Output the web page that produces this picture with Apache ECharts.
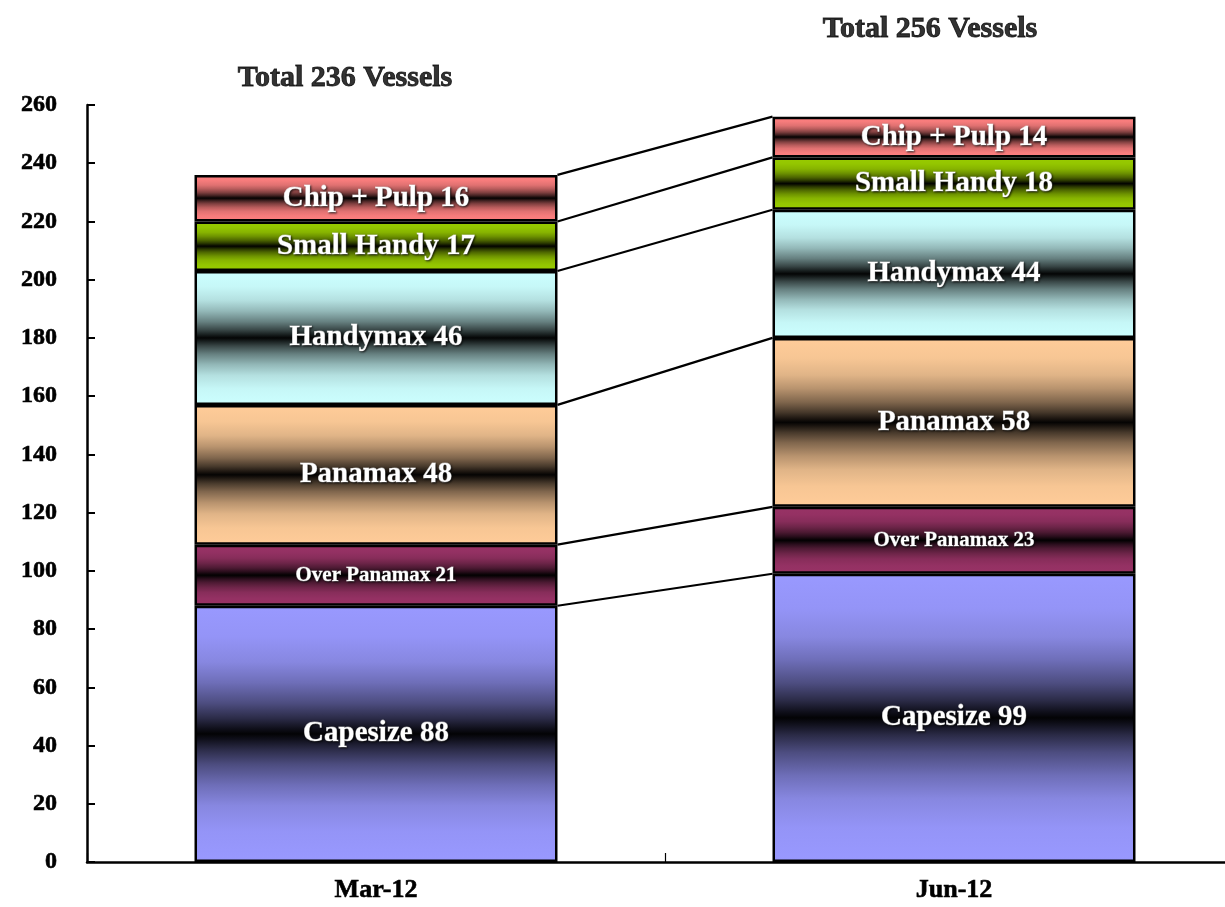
<!DOCTYPE html>
<html>
<head>
<meta charset="utf-8">
<script src="https://cdn.jsdelivr.net/npm/echarts@6/dist/echarts.min.js"></script>
<style>
  html, body { margin: 0; padding: 0; background: #fff; }
  #Chart { width: 1225px; height: 907px; }
</style>
</head>
<body>
<div id="Chart"></div>
<script>
  // categories and values
  var periods = ['Mar-12', 'Jun-12']
  var segNames = ['Capesize', 'Over Panamax', 'Panamax', 'Handymax', 'Small Handy', 'Chip + Pulp']
  var capesize = [88, 99]
  var overPanamax = [21, 23]
  var panamax = [48, 58]
  var handymax = [46, 44]
  var smallHandy = [17, 18]
  var chipPulp = [16, 14]
  var totals = [236, 256]
  var yTicks = [0, 260, 20]

  var segValues = [capesize, overPanamax, panamax, handymax, smallHandy, chipPulp]
  var segColors = ['#9999ff', '#993366', '#ffcc99', '#ccffff', '#99cc00', '#ff8080']
  var segFont = [29, 21, 29, 29, 29, 29]

  var Chart = echarts.init(document.getElementById('Chart'))

  // light at both edges, near black in the middle
  var shade = [[0, 1], [0.12, 0.97], [0.22, 0.88], [0.3, 0.72], [0.38, 0.5], [0.44, 0.28], [0.48, 0.1], [0.5, 0.02]]
  function grad(c) {
    var rgb = echarts.color.parse(c)
    var stops = []
    shade.forEach(function (s) {
      var col = 'rgb(' + Math.round(rgb[0] * s[1]) + ',' + Math.round(rgb[1] * s[1]) + ',' + Math.round(rgb[2] * s[1]) + ')'
      stops.push({ offset: s[0], color: col })
      if (s[0] < 0.5) stops.push({ offset: 1 - s[0], color: col })
    })
    stops.sort(function (a, b) { return a.offset - b.offset })
    return new echarts.graphic.LinearGradient(0, 0, 0, 1, stops)
  }

  var series = segValues.map(function (vals, i) {
    return {
      name: segNames[i],
      type: 'bar',
      stack: 'all',
      barWidth: '62.8%',
      data: vals,
      itemStyle: { color: grad(segColors[i]), borderColor: '#000', borderWidth: 2.5 },
      label: {
        show: true,
        position: 'inside',
        formatter: function (p) { return segNames[i] + ' ' + p.value },
        color: '#fff',
        fontFamily: 'Liberation Serif',
        fontWeight: 'bold',
        fontSize: segFont[i],
        textBorderColor: 'rgba(255,255,255,0.6)',
        textBorderWidth: 0.8,
        textShadowColor: 'rgba(0,0,0,0.7)',
        textShadowBlur: 2,
        textShadowOffsetX: 1,
        textShadowOffsetY: 1
      }
    }
  })

  // connector lines between the boundaries of the two stacks
  var cum0 = 0, cum1 = 0
  segValues.forEach(function (vals) {
    cum0 += vals[0]
    cum1 += vals[1]
    series.push({
      type: 'line',
      xAxisIndex: 1,
      symbol: 'none',
      silent: true,
      lineStyle: { color: '#000', width: 2.2 },
      data: [[0.314, cum0], [0.686, cum1]],
      z: 1
    })
  })

  // total labels above each stack
  series.push({
    type: 'scatter',
    symbolSize: 0,
    silent: true,
    data: [
      { value: totals[0], label: { offset: [-31, -12] } },
      { value: totals[1], label: { offset: [-24, -2] } }
    ],
    label: {
      show: true,
      position: 'top',
      distance: 70,
      formatter: 'Total {c} Vessels',
      color: '#000',
      fontFamily: 'Liberation Serif',
      fontWeight: 'bold',
      fontSize: 30,
      textBorderColor: '#000',
      textBorderWidth: 0.9
    }
  })

  var axisFont = {
    color: '#000',
    fontFamily: 'Liberation Serif',
    fontWeight: 'bold',
    fontSize: 24,
    textBorderColor: '#000',
    textBorderWidth: 0.6
  }

  Chart.setOption({
    animation: false,
    grid: { left: 87, top: 105, width: 1156, bottom: 45, outerBoundsMode: 'none', containLabel: false },
    xAxis: [{
      type: 'category',
      data: periods,
      axisLine: { lineStyle: { color: '#000', width: 2.5 } },
      axisTick: { show: true, inside: true, length: 9, lineStyle: { color: '#000', width: 1.2 } },
      axisLabel: Object.assign({}, axisFont, { margin: 15, fontSize: 26 })
    }, {
      type: 'value',
      min: -0.5,
      max: 1.5,
      show: false
    }],
    yAxis: {
      type: 'value',
      min: yTicks[0],
      max: yTicks[1],
      interval: yTicks[2],
      splitLine: { show: false },
      axisLine: { show: true, onZero: false, lineStyle: { color: '#000', width: 2.5 } },
      axisTick: { show: true, inside: true, length: 8, lineStyle: { color: '#000', width: 2 } },
      axisLabel: Object.assign({ margin: 30 }, axisFont)
    },
    series: series
  })
</script>
</body>
</html>
